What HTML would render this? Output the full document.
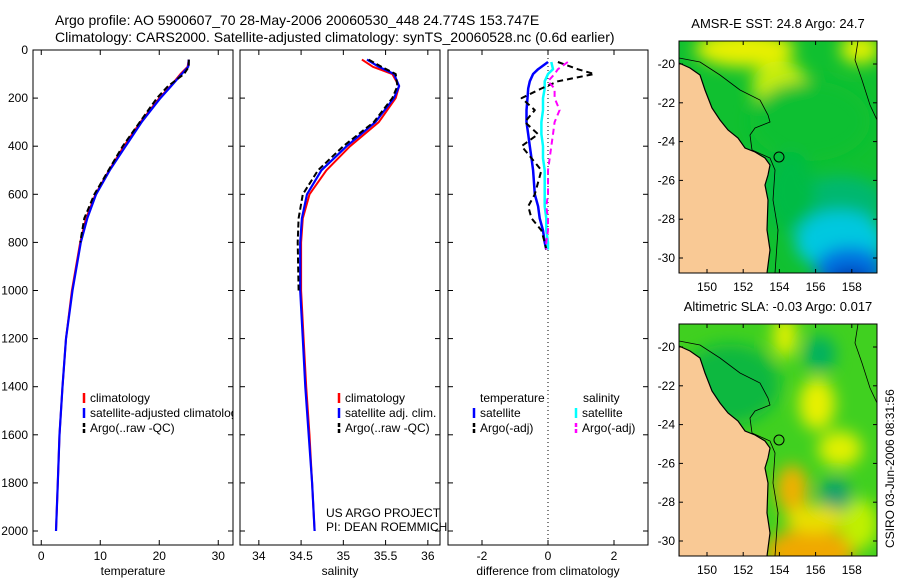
<!DOCTYPE html>
<html><head><meta charset="utf-8">
<style>
body{margin:0;background:#fff;width:900px;height:580px;overflow:hidden;font-family:"Liberation Sans",sans-serif}
svg text{font-family:"Liberation Sans",sans-serif;font-size:12px;fill:#000}
</style></head>
<body>
<svg id="fig" width="900" height="580" viewBox="0 0 900 580" xmlns="http://www.w3.org/2000/svg">
<defs>
<filter id="blur" x="-50%" y="-50%" width="200%" height="200%"><feGaussianBlur stdDeviation="8"/></filter>
<clipPath id="m1clip"><rect x="679" y="41" width="198" height="232"/></clipPath>
<clipPath id="m2clip"><rect x="679" y="324" width="198" height="232"/></clipPath>
<clipPath id="p1clip"><rect x="33" y="50" width="200" height="495"/></clipPath>
<clipPath id="p2clip"><rect x="240" y="50" width="200" height="495"/></clipPath>
<clipPath id="p3clip"><rect x="448" y="50" width="200" height="495"/></clipPath>
</defs>
<text x="55" y="25" style="font-size:14px">Argo profile: AO 5900607_70 28-May-2006 20060530_448 24.774S 153.747E</text>
<text x="55" y="42" style="font-size:14px">Climatology: CARS2000. Satellite-adjusted climatology: synTS_20060528.nc (0.6d earlier)</text>
<g id="plots"></g>
<g id="maps"></g>
<text transform="translate(894,548) rotate(-90)">CSIRO 03-Jun-2006 08:31:56</text>
</svg>
<script>
// ---- profile data (depth in m) ----
const depthT = [40, 70, 100, 150, 200, 300, 400, 500, 600, 700, 800, 1000, 1200, 1400, 1600, 1800, 2000];
const tempClim = [25.0, 24.8, 23.6, 21.9, 20.0, 16.8, 14.0, 11.5, 9.2, 7.6, 6.6, 5.2, 4.2, 3.6, 3.1, 2.8, 2.5];
const tempSat = [25.0, 24.9, 23.8, 22.0, 20.2, 17.0, 14.3, 11.6, 9.3, 7.8, 6.7, 5.3, 4.2, 3.6, 3.1, 2.8, 2.5];
const tempArgo = [25.0, 25.0, 24.2, 21.5, 19.6, 16.7, 13.8, 11.4, 9.0, 7.3, 6.6];
const salClim = [35.22, 35.35, 35.58, 35.66, 35.62, 35.42, 35.08, 34.8, 34.6, 34.52, 34.5, 34.5, 34.53, 34.56, 34.6, 34.63, 34.66];
const salSat = [35.28, 35.42, 35.6, 35.66, 35.6, 35.38, 35.04, 34.74, 34.57, 34.51, 34.49, 34.49, 34.52, 34.55, 34.59, 34.63, 34.66];
const salArgo = [35.3, 35.45, 35.62, 35.64, 35.58, 35.36, 35.0, 34.7, 34.52, 34.47, 34.46, 34.47];
const diffDepth = [50, 80, 100, 130, 160, 200, 250, 300, 350, 400, 450, 500, 600, 650, 700, 750, 800, 830];
const dTempSat = [0.0, -0.3, -0.45, -0.55, -0.6, -0.62, -0.65, -0.65, -0.6, -0.55, -0.5, -0.45, -0.4, -0.3, -0.25, -0.15, -0.1, -0.05];
const dSalSat = [0.1, 0.15, 0.0, -0.1, -0.1, -0.15, -0.15, -0.2, -0.2, -0.15, -0.15, -0.1, -0.1, -0.1, -0.05, -0.05, 0.0, 0.0];
const dTempArgo = [0.3, 0.9, 1.4, 0.3, -0.2, -0.8, -0.4, -0.7, -0.3, -0.8, -0.5, -0.2, -0.4, -0.6, -0.5, -0.2, -0.1, -0.05];
const dSalArgo = [0.6, 0.3, 0.2, 0.0, 0.2, 0.2, 0.35, 0.2, 0.15, 0.1, 0.05, 0.0, 0.0, -0.05, 0.0, 0.0, -0.05, -0.05];
const tempTicks = [0, 10, 20, 30];
const salTicks = [34, 34.5, 35, 35.5, 36];
const diffTicks = [-2, 0, 2];
const depthTicks = [0, 200, 400, 600, 800, 1000, 1200, 1400, 1600, 1800, 2000];
const lonTicks = [150, 152, 154, 156, 158];
const latTicks = [-20, -22, -24, -26, -28, -30];

const NS = "http://www.w3.org/2000/svg";
function el(tag, attrs, parent, txt){const e=document.createElementNS(NS,tag);for(const k in attrs)e.setAttribute(k,attrs[k]);if(txt!==undefined)e.textContent=txt;parent.appendChild(e);return e;}
const yD = d => 50 + d * 0.2405;
const plots = document.getElementById('plots');

function panel(name, x0, xmin, xmax, ticks, fmt, xlabel, clip){
  const w=200, sx = v => x0 + (v - xmin) / (xmax - xmin) * w;
  const g = el('g', {}, plots);
  
  
  const fr = el('rect', {x:x0, y:50, width:w, height:495, fill:'none', stroke:'#000', 'stroke-width':1}, g);
  
  
  ticks.forEach(t => {
    const x = sx(t);
    el('line', {x1:x, x2:x, y1:545, y2:540, stroke:'#000'}, g);
    el('line', {x1:x, x2:x, y1:50, y2:55, stroke:'#000'}, g);
    const tl = el('text', {x:x, y:560, 'text-anchor':'middle'}, g, fmt(t));
    
    
  });
  depthTicks.forEach(d => {
    el('line', {x1:x0, x2:x0+5, y1:yD(d), y2:yD(d), stroke:'#000'}, g);
    el('line', {x1:x0+w, x2:x0+w-5, y1:yD(d), y2:yD(d), stroke:'#000'}, g);
  });
  const xl = el('text', {x:x0 + w/2, y:575, 'text-anchor':'middle'}, g, xlabel);
  
  
  const lg = el('g', {'clip-path':'url(#'+clip+')'}, g);
  return {g, lg, sx};
}
function line(p, xs, ds, color, width, dash, name){
  const pts = xs.map((v,i)=> p.sx(v).toFixed(1)+','+yD(ds[i]).toFixed(1)).join(' ');
  const a = {points:pts, fill:'none', stroke:color, 'stroke-width':width, 'stroke-linejoin':'round'};
  if(dash) a['stroke-dasharray']=dash;
  const l = el('polyline', a, p.lg);
  
  
}
function legend(g, x, y, color, dash, label){
  const a = {x1:x, x2:x, y1:y-9, y2:y+1, stroke:color, 'stroke-width':2.5};
  if(dash) a['stroke-dasharray']='4,2';
  el('line', a, g);
  const t = el('text', {x:x+6, y:y}, g, label);
  
  
}

depthTicks.forEach(d => {
  const t = el('text', {x:28, y:yD(d)+4, 'text-anchor':'end'}, plots, String(d));
  
  
});

const p1 = panel('temperature-panel', 33, -1.4, 32.5, tempTicks, v=>String(v), 'temperature', 'p1clip');
line(p1, tempClim, depthT, '#f00', 2, null, 'temp-climatology-line');
line(p1, tempSat, depthT, '#00f', 2.2, null, 'temp-satellite-line');
line(p1, tempArgo, depthT.slice(0, tempArgo.length), '#000', 2, '6,3', 'temp-argo-line');
legend(p1.lg, 84, 402, '#f00', false, 'climatology');
legend(p1.lg, 84, 417, '#00f', false, 'satellite-adjusted climatology');
legend(p1.lg, 84, 432, '#000', true, 'Argo(..raw -QC)');

const p2 = panel('salinity-panel', 240, 33.777, 36.144, salTicks, v=>String(v), 'salinity', 'p2clip');
line(p2, salClim, depthT, '#f00', 2, null, 'sal-climatology-line');
line(p2, salSat, depthT, '#00f', 2.2, null, 'sal-satellite-line');
line(p2, salArgo, depthT.slice(0, salArgo.length), '#000', 2, '6,3', 'sal-argo-line');
legend(p2.lg, 339, 402, '#f00', false, 'climatology');
legend(p2.lg, 339, 417, '#00f', false, 'satellite adj. clim.');
legend(p2.lg, 339, 432, '#000', true, 'Argo(..raw -QC)');
const c1 = el('text', {x:326, y:517}, p2.g, 'US ARGO PROJECT');


const c2 = el('text', {x:326, y:531}, p2.g, 'PI: DEAN ROEMMICH');



const p3 = panel('difference-panel', 448, -3.03, 3.03, diffTicks, v=>String(v), 'difference from climatology', 'p3clip');
el('line', {x1:p3.sx(0), x2:p3.sx(0), y1:50, y2:545, stroke:'#000', 'stroke-dasharray':'1,3'}, p3.lg);
line(p3, dTempSat, diffDepth, '#00f', 2.5, null, 'diff-temp-satellite-line');
line(p3, dSalSat, diffDepth, '#0ff', 2.5, null, 'diff-sal-satellite-line');
line(p3, dTempArgo, diffDepth, '#000', 2, '6,4', 'diff-temp-argo-line');
line(p3, dSalArgo, diffDepth, '#f0f', 2, '6,4', 'diff-sal-argo-line');
const th = el('text', {x:480, y:402}, p3.g, 'temperature');


const sh = el('text', {x:583, y:402}, p3.g, 'salinity');


legend(p3.lg, 474, 417, '#00f', false, 'satellite');
legend(p3.lg, 474, 432, '#000', true, 'Argo(-adj)');
legend(p3.lg, 576, 417, '#0ff', false, 'satellite');
legend(p3.lg, 576, 432, '#f0f', true, 'Argo(-adj)');

// ---- maps ----
const maps = document.getElementById('maps');
const coastPts = [[679,63],[690,68],[700,75],[705,90],[712,108],[720,120],[728,130],[738,138],[745,148],[755,152],[765,158],[770,165],[768,175],[765,185],[768,200],[767,230],[770,250],[767,273]];
const shelfPts = [[679,58],[700,62],[720,75],[740,90],[760,100],[768,115],[770,122],[755,128],[750,135],[752,150],[770,158],[775,170],[773,200],[778,230],[775,273]];
const offPts = [[858,41],[855,60],[862,80],[870,105],[877,120]];
const pts = (a, dy) => a.map(p=>p[0]+','+(p[1]+dy)).join(' ');
function map(name, y0, title, blobs, base){
  const g = el('g', {}, maps);
  
  
  const inner = el('g', {'clip-path':'url(#'+(y0<100?'m1clip':'m2clip')+')'}, g);
  el('rect', {x:679, y:y0, width:198, height:232, fill:base}, inner);
  const bg = el('g', {filter:'url(#blur)'}, inner);
  blobs.forEach(b => el('ellipse', {cx:b[0], cy:b[1]+y0, rx:b[2], ry:b[3], fill:b[4]}, bg));
  const dy = y0 - 41;
  const land = el('polygon', {points: pts(coastPts, dy) + ' 679,' + (y0+240), fill:'#f9c995', stroke:'#000', 'stroke-width':1.2}, inner);
  
  
  el('polyline', {points:pts(shelfPts, dy), fill:'none', stroke:'#000', 'stroke-width':0.8}, inner);
  el('polyline', {points:pts(offPts, dy), fill:'none', stroke:'#000', 'stroke-width':0.8}, inner);
  el('circle', {cx:779, cy:157+dy, r:5, fill:'none', stroke:'#000'}, inner);
  el('rect', {x:679, y:y0, width:198, height:232, fill:'none', stroke:'#000'}, g);
  const t = el('text', {x:778, y:y0-13, 'text-anchor':'middle', style:'font-size:13px'}, g, title);
  
  
  const lon = v => 707 + (v - 150) * 18.1;
  const lat = v => y0 + 23 + (-20 - v) * 19.4;
  lonTicks.forEach(v => {
    el('line', {x1:lon(v), x2:lon(v), y1:y0+232, y2:y0+228, stroke:'#000'}, g);
    el('line', {x1:lon(v), x2:lon(v), y1:y0, y2:y0+4, stroke:'#000'}, g);
    const l = el('text', {x:lon(v), y:y0+250, 'text-anchor':'middle'}, g, String(v));
    
    
  });
  latTicks.forEach(v => {
    el('line', {x1:679, x2:683, y1:lat(v), y2:lat(v), stroke:'#000'}, g);
    el('line', {x1:877, x2:873, y1:lat(v), y2:lat(v), stroke:'#000'}, g);
    const l = el('text', {x:675, y:lat(v)+4, 'text-anchor':'end'}, g, String(v));
    
    
  });
}
map('sst-map', 41, 'AMSR-E SST: 24.8 Argo: 24.7', [
  [745,8,50,18,'#e8f000'],[780,45,28,25,'#c8ee10'],[860,8,20,15,'#e0f000'],[810,80,60,40,'#10c030'],
  [840,160,45,25,'#00b870'],[840,200,45,30,'#00c8e0'],[850,228,35,22,'#0070e0'],[850,245,22,16,'#0020a0'],
  [740,150,10,30,'#10c0e0'],[790,150,25,40,'#00bb44']], '#10c030');
map('sla-map', 324, 'Altimetric SLA: -0.03 Argo: 0.017', [
  [785,12,12,22,'#e0f000'],[820,30,16,18,'#00b060'],[817,80,18,26,'#e8f000'],[730,60,50,40,'#10b840'],
  [792,165,16,24,'#f0b000'],[835,172,16,18,'#10a070'],[840,125,22,18,'#e0f000'],[810,228,45,24,'#f0a800'],[815,195,30,14,'#e8e000'],[860,200,18,25,'#c0f000']], '#40d020');
</script>
</body></html>
